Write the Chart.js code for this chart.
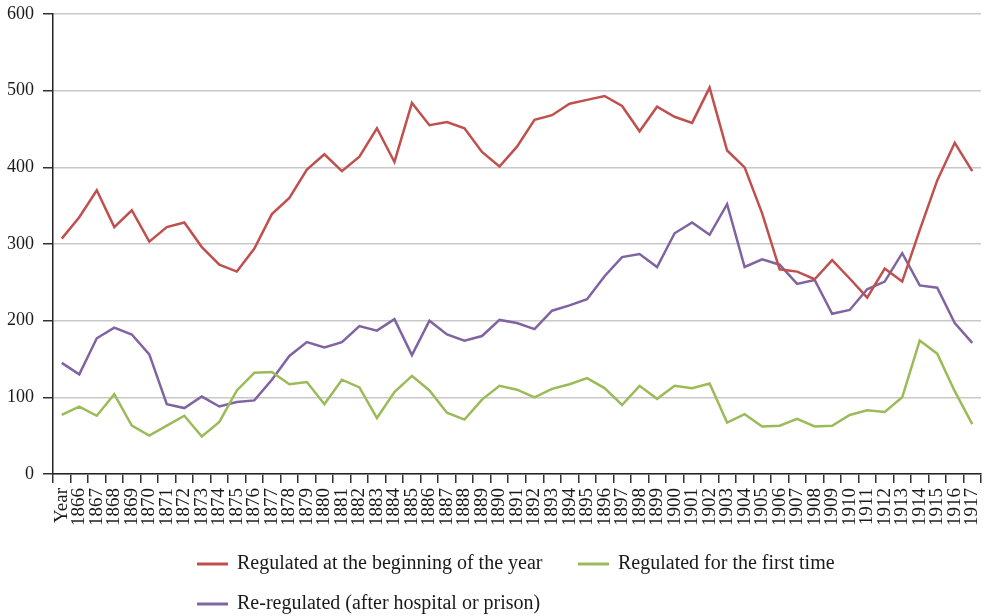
<!DOCTYPE html>
<html>
<head>
<meta charset="utf-8">
<script src="https://cdn.jsdelivr.net/npm/chart.js@4.4.1/dist/chart.umd.min.js"></script>
<style>
  html, body { margin: 0; padding: 0; background: #fff; }
  canvas { display: block; }
</style>
</head>
<body>
<canvas id="chart" width="990" height="616"></canvas>
<script>
    "use strict";

    // x categories (first one is labelled "Year" in the source)
    var years = ['Year', '1866', '1867', '1868', '1869', '1870', '1871', '1872', '1873', '1874',
        '1875', '1876', '1877', '1878', '1879', '1880', '1881', '1882', '1883', '1884',
        '1885', '1886', '1887', '1888', '1889', '1890', '1891', '1892', '1893', '1894',
        '1895', '1896', '1897', '1898', '1899', '1900', '1901', '1902', '1903', '1904',
        '1905', '1906', '1907', '1908', '1909', '1910', '1911', '1912', '1913', '1914',
        '1915', '1916', '1917'];

    var regulatedStart = [307, 335, 370, 322, 344, 303, 322, 328, 296, 273,
        264, 294, 339, 360, 397, 417, 395, 414, 451, 407,
        484, 455, 459, 451, 420, 401, 427, 462, 468, 483,
        488, 493, 480, 447, 479, 466, 458, 504, 422, 400,
        340, 267, 264, 254, 279, 255, 230, 268, 251, 318,
        383, 432, 395];

    var firstTime = [77, 88, 76, 104, 63, 50, 63, 76, 49, 68,
        109, 132, 133, 117, 120, 91, 123, 113, 73, 107,
        128, 109, 80, 71, 97, 115, 110, 100, 111, 117,
        125, 112, 90, 115, 98, 115, 112, 118, 67, 78,
        62, 63, 72, 62, 63, 77, 83, 81, 100, 174,
        157, 108, 65];

    var reRegulated = [145, 130, 177, 191, 182, 156, 91, 86, 101, 88,
        94, 96, 123, 154, 172, 165, 172, 193, 187, 202,
        155, 200, 182, 174, 180, 201, 197, 189, 213, 220,
        228, 258, 283, 287, 270, 314, 328, 312, 352, 270,
        280, 273, 248, 253, 209, 214, 241, 251, 288, 246,
        243, 197, 171];

    var yTicks = [0, 100, 200, 300, 400, 500, 600];

    var seriesNames = ['Regulated at the beginning of the year', 'Regulated for the first time', 'Re-regulated (after hospital or prison)'];

    Chart.defaults.font.family = "'Liberation Serif', 'DejaVu Serif', serif";
    Chart.defaults.color = '#1a1a1a';

    // legend drawn in two columns like the original
    var gridLegend = {
        id: 'gridLegend',
        afterDraw: function (chart) {
            var ctx = chart.ctx;
            var spots = [[197, 564], [578, 564], [197, 604]];
            ctx.save();
            ctx.font = "20px 'Liberation Serif', serif";
            ctx.textBaseline = 'middle';
            ctx.fillStyle = '#1a1a1a';
            chart.data.datasets.forEach(function (ds, i) {
                var x = spots[i][0], y = spots[i][1];
                ctx.strokeStyle = ds.borderColor;
                ctx.lineWidth = 3;
                ctx.beginPath();
                ctx.moveTo(x, y);
                ctx.lineTo(x + 31, y);
                ctx.stroke();
                ctx.fillText(ds.label, x + 40, y);
            });
            ctx.restore();
        }
    };

    var ctx = document.getElementById('chart').getContext('2d');

    var myChart = new Chart(ctx, {
        type: 'line',
        data: {
            labels: years,
            datasets: [{
                label: seriesNames[0],
                data: regulatedStart,
                borderColor: '#c0504d',
                backgroundColor: '#c0504d'
            }, {
                label: seriesNames[1],
                data: firstTime,
                borderColor: '#9bbb59',
                backgroundColor: '#9bbb59'
            }, {
                label: seriesNames[2],
                data: reRegulated,
                borderColor: '#8064a2',
                backgroundColor: '#8064a2'
            }]
        },
        options: {
            responsive: false,
            devicePixelRatio: 1,
            animation: false,
            elements: {
                line: { borderWidth: 2.5, tension: 0 },
                point: { radius: 0, hoverRadius: 0 }
            },
            layout: {
                padding: { top: 14, right: 9, left: 0, bottom: 0 }
            },
            plugins: {
                legend: { display: false },
                tooltip: { enabled: false }
            },
            scales: {
                x: {
                    offset: true,
                    grid: {
                        offset: true,
                        drawOnChartArea: false,
                        tickColor: '#333',
                        tickLength: 9,
                        lineWidth: 1.5
                    },
                    border: { color: '#222', width: 1.5 },
                    ticks: {
                        autoSkip: false,
                        minRotation: 90,
                        maxRotation: 90,
                        padding: 5,
                        color: '#1a1a1a',
                        font: { size: 19 }
                    },
                    afterFit: function (scale) {
                        scale.height = 142;
                        scale.paddingLeft = 0;
                        scale.paddingRight = 0;
                    }
                },
                y: {
                    min: 0,
                    max: 600,
                    afterBuildTicks: function (scale) {
                        scale.ticks = yTicks.map(function (v) { return { value: v }; });
                    },
                    grid: {
                        color: '#c8c8c8',
                        lineWidth: 1.5,
                        tickColor: '#333',
                        tickLength: 10
                    },
                    border: { color: '#222', width: 1.5 },
                    ticks: {
                        padding: 9,
                        color: '#1a1a1a',
                        font: { size: 18 }
                    },
                    afterFit: function (scale) {
                        scale.width = 53;
                        scale.paddingTop = 0;
                        scale.paddingBottom = 0;
                    }
                }
            }
        },
        plugins: [gridLegend]
    });
</script>
</body>
</html>
